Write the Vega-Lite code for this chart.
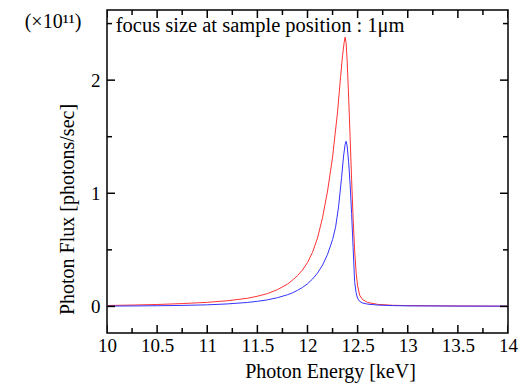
{
  "$schema": "https://vega.github.io/schema/vega-lite/v6.json",
  "width": 401,
  "height": 323,
  "autosize": "none",
  "padding": {"left": 107, "top": 10, "right": 19, "bottom": 51},
  "config": {"view": {"stroke": "black", "strokeWidth": 1.5}},
  "datasets": {
    "red": [
      {"energy": 10.0, "flux": 0.008}, {"energy": 10.25, "flux": 0.012}, {"energy": 10.5, "flux": 0.017},
      {"energy": 10.75, "flux": 0.025}, {"energy": 11.0, "flux": 0.036}, {"energy": 11.2, "flux": 0.05},
      {"energy": 11.4, "flux": 0.072}, {"energy": 11.5, "flux": 0.09}, {"energy": 11.6, "flux": 0.113},
      {"energy": 11.7, "flux": 0.148}, {"energy": 11.8, "flux": 0.197}, {"energy": 11.85, "flux": 0.232},
      {"energy": 11.9, "flux": 0.272}, {"energy": 11.95, "flux": 0.322}, {"energy": 12.0, "flux": 0.388},
      {"energy": 12.05, "flux": 0.478}, {"energy": 12.1, "flux": 0.605}, {"energy": 12.15, "flux": 0.785},
      {"energy": 12.2, "flux": 1.02}, {"energy": 12.25, "flux": 1.32}, {"energy": 12.3, "flux": 1.72},
      {"energy": 12.33, "flux": 2.03}, {"energy": 12.35, "flux": 2.22}, {"energy": 12.365, "flux": 2.33},
      {"energy": 12.375, "flux": 2.38}, {"energy": 12.385, "flux": 2.33}, {"energy": 12.395, "flux": 2.18},
      {"energy": 12.41, "flux": 1.86}, {"energy": 12.425, "flux": 1.5}, {"energy": 12.44, "flux": 1.12},
      {"energy": 12.455, "flux": 0.78}, {"energy": 12.47, "flux": 0.5}, {"energy": 12.485, "flux": 0.3},
      {"energy": 12.5, "flux": 0.18}, {"energy": 12.52, "flux": 0.1}, {"energy": 12.55, "flux": 0.06},
      {"energy": 12.6, "flux": 0.035}, {"energy": 12.7, "flux": 0.018}, {"energy": 12.85, "flux": 0.01},
      {"energy": 13.0, "flux": 0.007}, {"energy": 13.5, "flux": 0.004}, {"energy": 14.0, "flux": 0.002}
    ],
    "blue": [
      {"energy": 10.0, "flux": 0.003}, {"energy": 10.25, "flux": 0.004}, {"energy": 10.5, "flux": 0.006},
      {"energy": 10.75, "flux": 0.009}, {"energy": 11.0, "flux": 0.014}, {"energy": 11.2, "flux": 0.022},
      {"energy": 11.4, "flux": 0.035}, {"energy": 11.5, "flux": 0.045}, {"energy": 11.6, "flux": 0.058},
      {"energy": 11.7, "flux": 0.077}, {"energy": 11.8, "flux": 0.103}, {"energy": 11.85, "flux": 0.12},
      {"energy": 11.9, "flux": 0.142}, {"energy": 11.95, "flux": 0.168}, {"energy": 12.0, "flux": 0.2},
      {"energy": 12.05, "flux": 0.242}, {"energy": 12.1, "flux": 0.295}, {"energy": 12.15, "flux": 0.365},
      {"energy": 12.2, "flux": 0.46}, {"energy": 12.25, "flux": 0.59}, {"energy": 12.28, "flux": 0.7},
      {"energy": 12.31, "flux": 0.88}, {"energy": 12.34, "flux": 1.14}, {"energy": 12.36, "flux": 1.33},
      {"energy": 12.375, "flux": 1.43}, {"energy": 12.385, "flux": 1.46}, {"energy": 12.395, "flux": 1.42},
      {"energy": 12.41, "flux": 1.28}, {"energy": 12.425, "flux": 1.08}, {"energy": 12.44, "flux": 0.82},
      {"energy": 12.455, "flux": 0.52}, {"energy": 12.47, "flux": 0.22}, {"energy": 12.485, "flux": 0.12},
      {"energy": 12.5, "flux": 0.07}, {"energy": 12.52, "flux": 0.045}, {"energy": 12.55, "flux": 0.03},
      {"energy": 12.6, "flux": 0.02}, {"energy": 12.7, "flux": 0.012}, {"energy": 12.85, "flux": 0.007},
      {"energy": 13.0, "flux": 0.005}, {"energy": 13.5, "flux": 0.003}, {"energy": 14.0, "flux": 0.002}
    ],
    "ticksX": [
      {"pos": 10, "kind": "major"}, {"pos": 10.25, "kind": "minor"}, {"pos": 10.5, "kind": "major"},
      {"pos": 10.75, "kind": "minor"}, {"pos": 11, "kind": "major"}, {"pos": 11.25, "kind": "minor"},
      {"pos": 11.5, "kind": "major"}, {"pos": 11.75, "kind": "minor"}, {"pos": 12, "kind": "major"},
      {"pos": 12.25, "kind": "minor"}, {"pos": 12.5, "kind": "major"}, {"pos": 12.75, "kind": "minor"},
      {"pos": 13, "kind": "major"}, {"pos": 13.25, "kind": "minor"}, {"pos": 13.5, "kind": "major"},
      {"pos": 13.75, "kind": "minor"}, {"pos": 14, "kind": "major"}
    ],
    "ticksY": [
      {"pos": 0, "kind": "major"}, {"pos": 0.5, "kind": "minor"}, {"pos": 1, "kind": "major"},
      {"pos": 1.5, "kind": "minor"}, {"pos": 2, "kind": "major"}, {"pos": 2.5, "kind": "minor"}
    ],
    "notes": [
      {"energy": 10.087, "flux": 2.424, "label": "focus size at sample position : 1μm"}
    ],
    "scaleNote": [
      {"energy": 9.179, "flux": 2.512, "label": "(×10¹¹)"}
    ]
  },
  "layer": [
    {
      "data": {"name": "red"},
      "mark": {"type": "line", "color": "#ff3333", "strokeWidth": 1, "clip": true},
      "encoding": {
        "x": {"field": "energy", "type": "quantitative", "scale": {"domain": [10, 14], "nice": false, "zero": false},
          "axis": {"orient": "bottom", "values": [10, 10.5, 11, 11.5, 12, 12.5, 13, 13.5, 14], "format": "~g", "grid": false, "domain": false, "ticks": false, "labelFlush": false, "labelOverlap": false, "labelColor": "black", "labelFont": "Liberation Serif", "labelFontSize": 19, "labelPadding": 3, "title": "Photon Energy [keV]", "titleFont": "Liberation Serif", "titleFontWeight": "normal", "titleColor": "black", "titleFontSize": 20, "titleX": 223, "titleY": 44, "titleBaseline": "alphabetic", "titleAnchor": "middle"}},
        "y": {"field": "flux", "type": "quantitative", "scale": {"domain": [-0.235, 2.62], "nice": false, "zero": false},
          "axis": {"orient": "left", "values": [0, 1, 2], "format": "~g", "grid": false, "domain": false, "ticks": false, "labelFlush": false, "labelOverlap": false, "labelColor": "black", "labelFont": "Liberation Serif", "labelFontSize": 19, "labelPadding": 7, "title": "Photon Flux [photons/sec]", "titleFont": "Liberation Serif", "titleFontWeight": "normal", "titleColor": "black", "titleFontSize": 20, "titleX": -34, "titleY": 199, "titleBaseline": "alphabetic", "titleAngle": -90}}
      }
    },
    {
      "data": {"name": "blue"},
      "mark": {"type": "line", "color": "#3333ff", "strokeWidth": 1, "clip": true},
      "encoding": {
        "x": {"field": "energy", "type": "quantitative"},
        "y": {"field": "flux", "type": "quantitative"}
      }
    },
    {
      "data": {"name": "ticksX"},
      "mark": {"type": "tick", "orient": "vertical", "color": "black", "thickness": 1.5, "opacity": 1, "clip": true},
      "encoding": {
        "x": {"field": "pos", "type": "quantitative"},
        "y": {"datum": -0.235, "type": "quantitative"},
        "size": {"condition": {"test": "datum.kind === 'major'", "value": 16}, "value": 10}
      }
    },
    {
      "data": {"name": "ticksX"},
      "mark": {"type": "tick", "orient": "vertical", "color": "black", "thickness": 1.5, "opacity": 1, "clip": true},
      "encoding": {
        "x": {"field": "pos", "type": "quantitative"},
        "y": {"datum": 2.62, "type": "quantitative"},
        "size": {"condition": {"test": "datum.kind === 'major'", "value": 16}, "value": 10}
      }
    },
    {
      "data": {"name": "ticksY"},
      "mark": {"type": "tick", "orient": "horizontal", "color": "black", "thickness": 1.5, "opacity": 1, "clip": true},
      "encoding": {
        "y": {"field": "pos", "type": "quantitative"},
        "x": {"datum": 10, "type": "quantitative"},
        "size": {"condition": {"test": "datum.kind === 'major'", "value": 16}, "value": 10}
      }
    },
    {
      "data": {"name": "ticksY"},
      "mark": {"type": "tick", "orient": "horizontal", "color": "black", "thickness": 1.5, "opacity": 1, "clip": true},
      "encoding": {
        "y": {"field": "pos", "type": "quantitative"},
        "x": {"datum": 14, "type": "quantitative"},
        "size": {"condition": {"test": "datum.kind === 'major'", "value": 16}, "value": 10}
      }
    },
    {
      "data": {"name": "notes"},
      "mark": {"type": "text", "align": "left", "baseline": "alphabetic", "fontSize": 20.5, "color": "black", "font": "Liberation Serif"},
      "encoding": {
        "x": {"field": "energy", "type": "quantitative"},
        "y": {"field": "flux", "type": "quantitative"},
        "text": {"field": "label"}
      }
    },
    {
      "data": {"name": "scaleNote"},
      "mark": {"type": "text", "align": "left", "baseline": "middle", "fontSize": 20, "color": "black", "font": "Liberation Serif"},
      "encoding": {
        "x": {"field": "energy", "type": "quantitative"},
        "y": {"field": "flux", "type": "quantitative"},
        "text": {"field": "label"}
      }
    }
  ]
}
